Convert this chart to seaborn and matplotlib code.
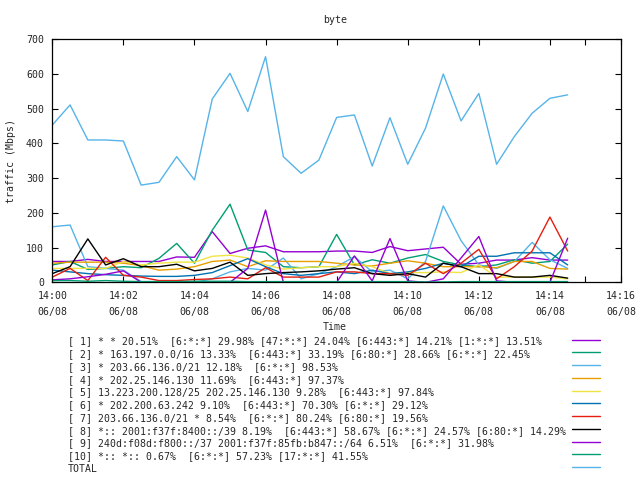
import numpy as np
import pandas as pd
import matplotlib
matplotlib.use("Agg")
import matplotlib.pyplot as plt
from matplotlib.lines import Line2D
import seaborn as sns

# ---------------- data ----------------
minutes = [i * 0.5 for i in range(30)]  # 14:00 .. 14:14:30, every 30 s

s1 = [60, 60, 66, 60, 60, 60, 60, 73, 72, 146, 83, 98, 105, 88, 88, 88,
      90, 90, 86, 103, 91, 96, 101, 52, 55, 64, 64, 71, 64, 64]
s2 = [50, 60, 37, 40, 45, 42, 69, 112, 55, 150, 225, 93, 86, 45, 42, 45,
      138, 50, 65, 55, 70, 80, 60, 50, 45, 50, 65, 55, 60, 110]
s3 = [160, 165, 45, 40, 35, 2, 2, 2, 0, 10, 30, 40, 35, 70, 10, 25,
      45, 74, 30, 35, 10, 60, 220, 120, 50, 40, 60, 115, 65, 40]
s4 = [55, 58, 58, 58, 55, 48, 35, 38, 45, 60, 64, 45, 62, 60, 60, 60,
      55, 50, 47, 55, 62, 55, 45, 45, 45, 42, 60, 60, 40, 38]
s5 = [40, 40, 40, 40, 60, 50, 55, 58, 58, 75, 78, 70, 50, 38, 42, 45,
      45, 55, 45, 25, 28, 28, 30, 28, 50, 15, 15, 15, 15, 10]
s6 = [35, 30, 25, 22, 20, 18, 17, 17, 20, 28, 48, 68, 45, 25, 20, 25,
      30, 25, 35, 25, 30, 40, 55, 45, 75, 75, 85, 85, 85, 50]
s7 = [15, 40, 5, 72, 20, 15, 5, 5, 8, 10, 15, 10, 42, 15, 15, 15,
      30, 30, 25, 25, 20, 55, 25, 55, 95, 10, 45, 90, 188, 90]
s8 = [25, 45, 125, 50, 68, 45, 45, 52, 33, 40, 58, 20, 25, 28, 30, 33,
      38, 42, 25, 20, 25, 15, 55, 45, 25, 25, 15, 15, 20, 12]
s9 = [7, 10, 16, 23, 33, 0, 0, 0, 0, 0, 0, 40, 208, 0, 0, 0,
      0, 76, 4, 126, 4, 0, 10, 70, 132, 4, 0, 0, 0, 127]
s10 = [5, 5, 3, 5, 3, 2, 2, 2, 3, 3, 3, 2, 2, 2, 2, 2,
       2, 2, 2, 2, 2, 1, 1, 2, 2, 2, 2, 2, 2, 2]
total = [453, 511, 410, 410, 407, 280, 288, 362, 295, 528, 602, 492, 650, 362, 314, 352,
         475, 482, 335, 474, 340, 444, 600, 465, 544, 340, 420, 487, 530, 540]

series_names = ["1", "2", "3", "4", "5", "6", "7", "8", "9", "10", "TOTAL"]
series_values = [s1, s2, s3, s4, s5, s6, s7, s8, s9, s10, total]
series_colors = ["#9400d3", "#009e73", "#56b4e9", "#e69f00", "#f0e442",
                 "#0072b2", "#e51e10", "#000000", "#9400d3", "#009e73", "#56b4e9"]

legend_labels = [
    "[ 1] * * 20.51%  [6:*:*] 29.98% [47:*:*] 24.04% [6:443:*] 14.21% [1:*:*] 13.51%",
    "[ 2] * 163.197.0.0/16 13.33%  [6:443:*] 33.19% [6:80:*] 28.66% [6:*:*] 22.45%",
    "[ 3] * 203.66.136.0/21 12.18%  [6:*:*] 98.53%",
    "[ 4] * 202.25.146.130 11.69%  [6:443:*] 97.37%",
    "[ 5] 13.223.200.128/25 202.25.146.130 9.28%  [6:443:*] 97.84%",
    "[ 6] * 202.200.63.242 9.10%  [6:443:*] 70.30% [6:*:*] 29.12%",
    "[ 7] 203.66.136.0/21 * 8.54%  [6:*:*] 80.24% [6:80:*] 19.56%",
    "[ 8] *:: 2001:f37f:8400::/39 8.19%  [6:443:*] 58.67% [6:*:*] 24.57% [6:80:*] 14.29%",
    "[ 9] 240d:f08d:f800::/37 2001:f37f:85fb:b847::/64 6.51%  [6:*:*] 31.98%",
    "[10] *:: *:: 0.67%  [6:*:*] 57.23% [17:*:*] 41.55%",
    "TOTAL",
]

xtick_pos = [0, 2, 4, 6, 8, 10, 12, 14, 16]
xtick_labels = ["14:00\n06/08", "14:02\n06/08", "14:04\n06/08", "14:06\n06/08",
                "14:08\n06/08", "14:10\n06/08", "14:12\n06/08", "14:14\n06/08",
                "14:16\n06/08"]
ytick_pos = [0, 100, 200, 300, 400, 500, 600, 700]

# ---------------- build frame ----------------
rows = []
for name, vals in zip(series_names, series_values):
    for m, v in zip(minutes, vals):
        rows.append({"minute": m, "value": v, "series": name})
df = pd.DataFrame(rows)

sns.set_style("white")
plt.rcParams["font.family"] = ["DejaVu Sans Mono"]
FS = 7.1

fig = plt.figure(figsize=(6.4, 4.8), dpi=100)
ax = fig.add_axes([52.3 / 640, 1 - 282.3 / 480, (621 - 52.3) / 640, (282.3 - 39.3) / 480])

sns.lineplot(data=df, x="minute", y="value", hue="series", hue_order=series_names,
             palette=dict(zip(series_names, series_colors)), legend=False,
             linewidth=1.0, ax=ax)

ax.set_xlim(0, 16)
ax.set_ylim(0, 700)
ax.set_xticks(xtick_pos)
ax.set_xticklabels(xtick_labels, fontsize=FS, linespacing=1.8)
ax.set_xticks([15], minor=True)
ax.set_yticks(ytick_pos)
ax.set_yticklabels([str(v) for v in ytick_pos], fontsize=FS)
ax.tick_params(axis="both", which="both", direction="in", length=4, width=0.8,
               top=True, right=True, bottom=True, left=True, color="black")
ax.tick_params(axis="x", which="major", pad=6)
ax.tick_params(axis="y", which="major", pad=6)
for sp in ax.spines.values():
    sp.set_visible(True)
    sp.set_color("black")
    sp.set_linewidth(0.9)

ax.set_xlabel("Time", fontsize=FS)
ax.xaxis.set_label_coords(0.497, -0.165)
ax.set_ylabel("traffic (Mbps)", fontsize=FS)
ax.yaxis.set_label_coords(-0.064, 0.50)
fig.text(335 / 640, 1 - 20 / 480, "byte", fontsize=FS, ha="center", va="center")

# gnuplot-style key below the plot
row0 = 341.5
step = 12.75
for i, (lab, col) in enumerate(zip(legend_labels, series_colors)):
    ypix = row0 + i * step
    fig.text(68 / 640, 1 - ypix / 480, lab, fontsize=FS, ha="left", va="center")
    fig.add_artist(Line2D([571.5 / 640, 600 / 640], [1 - (ypix - 2) / 480] * 2,
                          color=col, linewidth=1.0, transform=fig.transFigure))

fig.savefig("out.png", dpi=100)
